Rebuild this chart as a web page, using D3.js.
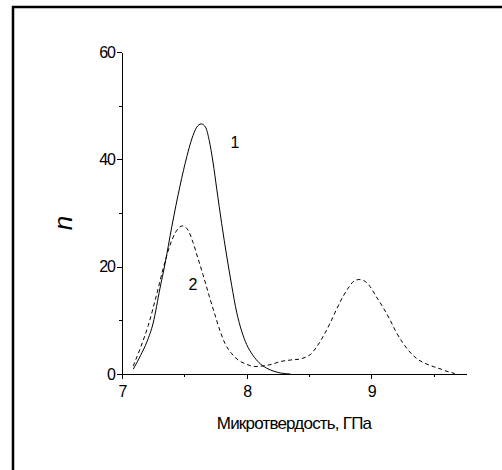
<!DOCTYPE html>
<html>
<head>
<meta charset="utf-8">
<script src="https://cdnjs.cloudflare.com/ajax/libs/d3/7.8.5/d3.min.js"></script>
<style>
body{margin:0;background:#fff;}
svg{display:block;font-family:"Liberation Sans",Arial,sans-serif;}
.axis path,.axis line{stroke:#000;stroke-width:1;shape-rendering:crispEdges;}
.axis text{font-size:16px;fill:#000;letter-spacing:-1px;}
</style>
</head>
<body>
<script>
var width=502,height=470;

// curve 1 (solid)
var x1=[7.09,7.15,7.20,7.25,7.305,7.345,7.40,7.465,7.52,7.56,7.60,7.635,7.67,7.70,7.73,7.76,7.80,7.84,7.88,7.92,7.96,8.00,8.05,8.10,8.16,8.22,8.28,8.35];
var n1=[0.9,3.5,6,9.5,16,20.5,27.5,35,40.5,43.8,46,46.6,46,43.5,39.5,34.5,28,22,16.5,11.5,8,5.5,3.5,2.1,1.1,0.5,0.15,0];
// curve 2 (dashed)
var x2=[7.09,7.15,7.21,7.28,7.34,7.385,7.425,7.486,7.53,7.57,7.61,7.65,7.70,7.746,7.79,7.826,7.88,7.933,8.00,8.067,8.13,8.20,8.267,8.35,8.43,8.48,8.51,8.56,8.614,8.67,8.72,8.77,8.815,8.86,8.90,8.94,8.98,9.04,9.10,9.15,9.20,9.256,9.31,9.363,9.43,9.496,9.56,9.62,9.67];
var n2=[1.5,5,9,15,20.5,24,26.2,27.6,26.8,24.5,21.5,18.5,14.5,11,7.8,5.7,3.8,2.6,1.8,1.4,1.5,1.8,2.3,2.6,2.8,3.2,3.6,5,7,9.5,12,14.3,16,17.3,17.6,17.4,16.6,14.4,12.2,10.1,7.8,5.7,4.1,2.9,2,1.4,0.9,0.4,0.1];

var xTicks=[7,8,9],xMinor=[7.5,8.5,9.5];
var yTicks=[0,20,40,60],yMinor=[10,30,50];

var svg=d3.select("body").append("svg")
    .attr("width",width)
    .attr("height",height);

// frame (left and top only)
svg.append("path")
   .attr("d","M13,470V7H502")
   .attr("fill","none")
   .attr("stroke","#000")
   .attr("stroke-width",2.5);

var xScale=d3.scaleLinear().domain([7,9.76]).range([122,466]);
var yScale=d3.scaleLinear().domain([0,60]).range([374,52]);

var xAxis=d3.axisBottom(xScale).tickValues(xTicks).tickFormat(d3.format("d"))
            .tickSize(5).tickSizeOuter(0).tickPadding(7);
var yAxis=d3.axisLeft(yScale).tickValues(yTicks).tickFormat(d3.format("d"))
            .tickSize(5).tickSizeOuter(0).tickPadding(2);

svg.append("g").attr("class","axis")
   .attr("transform","translate(0,"+yScale(0)+")")
   .call(xAxis);
svg.append("g").attr("class","axis")
   .attr("transform","translate("+xScale(7)+",0)")
   .call(yAxis);

// minor ticks
svg.append("g").attr("class","axis").selectAll("line")
   .data(xMinor).enter().append("line")
   .attr("x1",function(d){return Math.round(xScale(d))+0.5;})
   .attr("x2",function(d){return Math.round(xScale(d))+0.5;})
   .attr("y1",yScale(0)).attr("y2",yScale(0)+3);
svg.append("g").attr("class","axis").selectAll("line")
   .data(yMinor).enter().append("line")
   .attr("y1",function(d){return Math.round(yScale(d))+0.5;})
   .attr("y2",function(d){return Math.round(yScale(d))+0.5;})
   .attr("x1",xScale(7)).attr("x2",xScale(7)-3);

var line=d3.line()
   .x(function(d){return xScale(d[0]);})
   .y(function(d){return yScale(d[1]);})
   .curve(d3.curveMonotoneX);

svg.append("path")
   .datum(d3.zip(x1,n1))
   .attr("d",line)
   .attr("fill","none")
   .attr("stroke","#000")
   .attr("stroke-width",1);

svg.append("path")
   .datum(d3.zip(x2,n2))
   .attr("d",line)
   .attr("fill","none")
   .attr("stroke","#000")
   .attr("stroke-width",1)
   .attr("stroke-dasharray","4,3");

// curve labels
svg.append("text").attr("x",235).attr("y",148)
   .attr("text-anchor","middle").attr("font-size","16px").text("1");
svg.append("text").attr("x",193).attr("y",290)
   .attr("text-anchor","middle").attr("font-size","16px").text("2");

// axis titles
svg.append("text")
   .attr("x",294).attr("y",429)
   .attr("text-anchor","middle")
   .attr("font-size","17px")
   .attr("letter-spacing","-0.8px")
   .text("Микротвердость, ГПа");

svg.append("text")
   .attr("transform","translate(72,223) rotate(-90)")
   .attr("text-anchor","middle")
   .attr("font-size","26px")
   .attr("font-style","italic")
   .text("n");
</script>
</body>
</html>
